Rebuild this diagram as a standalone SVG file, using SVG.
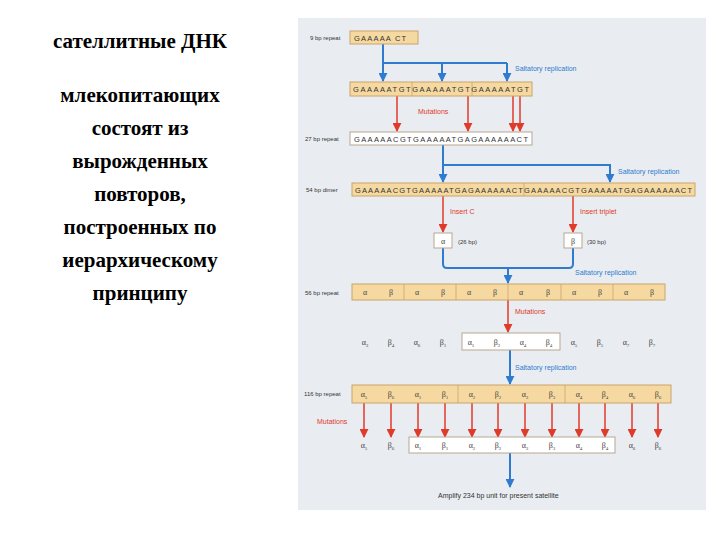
<svg xmlns="http://www.w3.org/2000/svg" width="720" height="540" viewBox="0 0 720 540">
<defs>
<marker id="ab" viewBox="0 0 10 10" refX="9" refY="5" markerWidth="9" markerHeight="9" orient="auto" markerUnits="userSpaceOnUse"><path d="M0,0 L10,5 L0,10 Z" fill="#2e7bd0"/></marker>
<marker id="ar" viewBox="0 0 10 10" refX="9" refY="5" markerWidth="9" markerHeight="9" orient="auto" markerUnits="userSpaceOnUse"><path d="M0,0 L10,5 L0,10 Z" fill="#e03a2a"/></marker>
<style>
.t{font-family:"Liberation Serif",serif;font-size:21px;font-weight:bold;fill:#000;text-anchor:middle}
.lb{font-family:"Liberation Sans",sans-serif;font-size:6px;fill:#333}
.sq{font-family:"Liberation Sans",sans-serif;font-size:7.5px;fill:#333}
.g{font-family:"Liberation Serif",serif;font-size:8px;fill:#444;text-anchor:middle}
.bl{font-family:"Liberation Sans",sans-serif;font-size:7px;fill:#2e7bd0}
.rd{font-family:"Liberation Sans",sans-serif;font-size:7px;fill:#e03a2a}
.ob{fill:#f6d9a0;stroke:#c9a46a;stroke-width:1}
.wb{fill:#fff;stroke:#b7a790;stroke-width:1}
.b{stroke:#2e7bd0;stroke-width:2;fill:none}
.r{stroke:#e03a2a;stroke-width:1.5;fill:none}
.dv{stroke:#c9a46a;stroke-width:0.8}
</style>
</defs>
<rect width="720" height="540" fill="#fff"/>
<g id="caption">
<text class="t" x="140" y="48">сателлитные ДНК</text>
<text class="t" x="140" y="102">млекопитающих</text>
<text class="t" x="140" y="135">состоят из</text>
<text class="t" x="140" y="168">вырожденных</text>
<text class="t" x="140" y="201">повторов,</text>
<text class="t" x="140" y="234">построенных по</text>
<text class="t" x="140" y="267">иерархическому</text>
<text class="t" x="140" y="300">принципу</text>
</g>
<rect x="298" y="18" width="408" height="492" fill="#e9edf1"/>
<g id="connectors">
<path class="b" d="M383,63 H507"/>
<path class="b" d="M383,44 V81" marker-end="url(#ab)"/>
<path class="b" d="M442,63 V81" marker-end="url(#ab)"/>
<path class="b" d="M507,63 V81" marker-end="url(#ab)"/>
<path class="r" d="M397,96 V131" marker-end="url(#ar)"/>
<path class="r" d="M468,96 V131" marker-end="url(#ar)"/>
<path class="r" d="M513,96 V131" marker-end="url(#ar)"/>
<path class="r" d="M520,96 V131" marker-end="url(#ar)"/>
<path class="b" d="M443,145 V182" marker-end="url(#ab)"/>
<path class="b" d="M443,165 H610 V182" marker-end="url(#ab)"/>
<path class="r" d="M443,196 V232" marker-end="url(#ar)"/>
<path class="r" d="M573,196 V232" marker-end="url(#ar)"/>
<path class="b" d="M443,248 V264 Q443,268 447,268 H569 Q573,268 573,264 V248"/>
<path class="b" d="M508,268 V283" marker-end="url(#ab)"/>
<path class="r" d="M508,300 V332" marker-end="url(#ar)"/>
<path class="b" d="M510,350 V384" marker-end="url(#ab)"/>
<g id="mut-arrows">
<path class="r" d="M364,403 V437" marker-end="url(#ar)"/>
<path class="r" d="M391,403 V437" marker-end="url(#ar)"/>
<path class="r" d="M418,403 V437" marker-end="url(#ar)"/>
<path class="r" d="M445,403 V437" marker-end="url(#ar)"/>
<path class="r" d="M472,403 V437" marker-end="url(#ar)"/>
<path class="r" d="M498,403 V437" marker-end="url(#ar)"/>
<path class="r" d="M525,403 V437" marker-end="url(#ar)"/>
<path class="r" d="M552,403 V437" marker-end="url(#ar)"/>
<path class="r" d="M579,403 V437" marker-end="url(#ar)"/>
<path class="r" d="M605,403 V437" marker-end="url(#ar)"/>
<path class="r" d="M632,403 V437" marker-end="url(#ar)"/>
<path class="r" d="M658,403 V437" marker-end="url(#ar)"/>
</g>
<path class="b" d="M510,453 V487" marker-end="url(#ab)"/>
</g>
<g id="labels">
<text class="bl" x="515" y="71">Saltatory replication</text>
<text class="rd" x="418" y="114">Mutations</text>
<text class="bl" x="618" y="174">Saltatory replication</text>
<text class="rd" x="450" y="214">Insert C</text>
<text class="rd" x="580" y="214">Insert triplet</text>
<text class="bl" x="575" y="275">Saltatory replication</text>
<text class="rd" x="515" y="314">Mutations</text>
<text class="bl" x="515" y="370">Saltatory replication</text>
<text class="rd" x="317" y="424">Mutations</text>
<text class="lb" x="438" y="498" style="font-size:7px">Amplify 234 bp unit for present satellite</text>
</g>
<g id="n9">
<text class="lb" x="310" y="40">9 bp repeat</text>
<rect class="ob" x="350" y="31" width="68" height="13"/>
<text class="sq" x="354" y="41" style="letter-spacing:1.2px">GAAAAA CT</text>
</g>
<g id="n27a">
<rect class="ob" x="350" y="82" width="182" height="14"/>
<line class="dv" x1="412" y1="82" x2="412" y2="96"/><line class="dv" x1="472" y1="82" x2="472" y2="96"/>
<text class="sq" x="353" y="92" textLength="176" lengthAdjust="spacing">GAAAAATGTGAAAAATGTGAAAAATGT</text>
</g>
<g id="n27">
<text class="lb" x="305" y="141">27 bp repeat</text>
<rect class="wb" x="350" y="132" width="182" height="13"/>
<text class="sq" x="354" y="142" textLength="174" lengthAdjust="spacing">GAAAAACGTGAAAAATGAGAAAAAACT</text>
</g>
<g id="n54">
<text class="lb" x="306" y="192">54 bp dimer</text>
<rect class="ob" x="352" y="183" width="343" height="13"/>
<line class="dv" x1="524" y1="183" x2="524" y2="196"/>
<text class="sq" x="355" y="193" textLength="337" lengthAdjust="spacing">GAAAAACGTGAAAAATGAGAAAAAACTGAAAAACGTGAAAAATGAGAAAAAACT</text>
</g>
<g id="alpha"><rect class="wb" x="434" y="233" width="18" height="15"/><text class="g" x="443" y="244">α</text><text class="lb" x="458" y="244">(26 bp)</text></g>
<g id="beta"><rect class="wb" x="564" y="233" width="18" height="15"/><text class="g" x="573" y="244">β</text><text class="lb" x="587" y="244">(30 bp)</text></g>
<g id="n56">
<text class="lb" x="305" y="295">56 bp repeat</text>
<rect class="ob" x="352" y="284" width="313" height="16"/>
<g class="dv">
<line x1="404" y1="284" x2="404" y2="300"/><line x1="456" y1="284" x2="456" y2="300"/><line x1="508" y1="284" x2="508" y2="300"/><line x1="561" y1="284" x2="561" y2="300"/><line x1="613" y1="284" x2="613" y2="300"/>
</g>
<g class="g">
<text x="365" y="295">α</text><text x="391" y="295">β</text><text x="417" y="295">α</text><text x="443" y="295">β</text><text x="469" y="295">α</text><text x="495" y="295">β</text><text x="521" y="295">α</text><text x="548" y="295">β</text><text x="574" y="295">α</text><text x="600" y="295">β</text><text x="626" y="295">α</text><text x="652" y="295">β</text>
</g>
</g>
<g id="row-mut1">
<rect class="wb" x="462" y="333" width="98" height="17"/>
<g class="g">
<text x="365" y="345">α<tspan font-size="5" dy="2">3</tspan></text>
<text x="391" y="345">β<tspan font-size="5" dy="2">4</tspan></text>
<text x="417" y="345">α<tspan font-size="5" dy="2">6</tspan></text>
<text x="443" y="345">β<tspan font-size="5" dy="2">1</tspan></text>
<text x="471" y="345">α<tspan font-size="5" dy="2">1</tspan></text>
<text x="497" y="345">β<tspan font-size="5" dy="2">2</tspan></text>
<text x="523" y="345">α<tspan font-size="5" dy="2">4</tspan></text>
<text x="549" y="345">β<tspan font-size="5" dy="2">4</tspan></text>
<text x="574" y="345">α<tspan font-size="5" dy="2">5</tspan></text>
<text x="600" y="345">β<tspan font-size="5" dy="2">5</tspan></text>
<text x="626" y="345">α<tspan font-size="5" dy="2">7</tspan></text>
<text x="652" y="345">β<tspan font-size="5" dy="2">7</tspan></text>
</g>
</g>
<g id="n116">
<text class="lb" x="304" y="396">116 bp repeat</text>
<rect class="ob" x="352" y="385" width="319" height="18"/>
<line class="dv" x1="458" y1="385" x2="458" y2="403"/><line class="dv" x1="565" y1="385" x2="565" y2="403"/>
<g class="g">
<text x="364" y="397">α<tspan font-size="5" dy="2">5</tspan></text>
<text x="391" y="397">β<tspan font-size="5" dy="2">6</tspan></text>
<text x="418" y="397">α<tspan font-size="5" dy="2">1</tspan></text>
<text x="445" y="397">β<tspan font-size="5" dy="2">1</tspan></text>
<text x="472" y="397">α<tspan font-size="5" dy="2">2</tspan></text>
<text x="498" y="397">β<tspan font-size="5" dy="2">2</tspan></text>
<text x="525" y="397">α<tspan font-size="5" dy="2">3</tspan></text>
<text x="552" y="397">β<tspan font-size="5" dy="2">3</tspan></text>
<text x="579" y="397">α<tspan font-size="5" dy="2">4</tspan></text>
<text x="605" y="397">β<tspan font-size="5" dy="2">4</tspan></text>
<text x="632" y="397">α<tspan font-size="5" dy="2">6</tspan></text>
<text x="658" y="397">β<tspan font-size="5" dy="2">6</tspan></text>
</g>
</g>
<g id="row-mut2">
<rect class="wb" x="409" y="437" width="206" height="16"/>
<g class="g">
<text x="364" y="448">α<tspan font-size="5" dy="2">5</tspan></text>
<text x="391" y="448">β<tspan font-size="5" dy="2">6</tspan></text>
<text x="418" y="448">α<tspan font-size="5" dy="2">1</tspan></text>
<text x="445" y="448">β<tspan font-size="5" dy="2">1</tspan></text>
<text x="472" y="448">α<tspan font-size="5" dy="2">2</tspan></text>
<text x="498" y="448">β<tspan font-size="5" dy="2">2</tspan></text>
<text x="525" y="448">α<tspan font-size="5" dy="2">3</tspan></text>
<text x="552" y="448">β<tspan font-size="5" dy="2">3</tspan></text>
<text x="579" y="448">α<tspan font-size="5" dy="2">4</tspan></text>
<text x="605" y="448">β<tspan font-size="5" dy="2">4</tspan></text>
<text x="632" y="448">α<tspan font-size="5" dy="2">6</tspan></text>
<text x="658" y="448">β<tspan font-size="5" dy="2">6</tspan></text>
</g>
</g>
</svg>
